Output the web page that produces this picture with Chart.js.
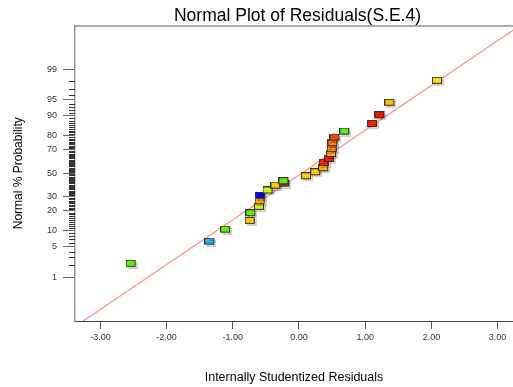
<!DOCTYPE html>
<html>
<head>
<meta charset="utf-8">
<script src="https://cdn.jsdelivr.net/npm/chart.js@4.4.1/dist/chart.umd.min.js"></script>
<style>
  body { margin: 0; background: #fff; }
</style>
</head>
<body>
<canvas id="myChart" width="513" height="387"></canvas>
<script>
// residuals (sorted) and normal probability in %
var residuals = [-2.53, -1.34, -1.10, -0.73, -0.72, -0.59, -0.58, -0.57, -0.46, -0.34, -0.21, -0.22,
  0.12, 0.26, 0.38, 0.39, 0.47, 0.50, 0.51, 0.52, 0.55, 0.70, 1.12, 1.23, 1.38, 2.10];
var probabilities = [2.1, 6.2, 10.2, 14.1, 18.3, 22.3, 26.2, 30.5, 34.6, 38.7, 40.5, 42.5,
  46.9, 50.4, 54.0, 58.7, 62.1, 66.3, 70.2, 74.5, 78.4, 82.1, 86.2, 90.0, 94.1, 98.0];
var pointColors = ["#5ef000", "#1eb0e8", "#5ef000", "#ffcc00", "#5ef000", "#c8f500", "#ffaa00", "#0000ff",
  "#c8f500", "#ffcc00", "#cc3030", "#5ef000", "#ffcc00", "#ffcc00", "#ffb000", "#ff2200",
  "#ff1100", "#ffaa00", "#ff7700", "#ff7700", "#ff4400", "#5ef000", "#ff1a00", "#ff1100", "#ffc000", "#ffe000"];

var probTicks = [1, 5, 10, 20, 30, 50, 70, 80, 90, 95, 99];
var residualTicks = [-3, -2, -1, 0, 1, 2, 3];

// reference line (residual, z)
var fitX = [-3.4, 3.4];
var fitZ = [-3.44, 3.36];

var font = "'Liberation Sans', Arial, sans-serif";

// inverse normal cdf (Acklam)
function probit(p) {
  var a = [-3.969683028665376e+01, 2.209460984245205e+02, -2.759285104469687e+02, 1.383577518672690e+02, -3.066479806614716e+01, 2.506628277459239e+00];
  var b = [-5.447609879822406e+01, 1.615858368580409e+02, -1.556989798598866e+02, 6.680131188771972e+01, -1.328068155288572e+01];
  var c = [-7.784894002430293e-03, -3.223964580411365e-01, -2.400758277161838e+00, -2.549732539343734e+00, 4.374664141464968e+00, 2.938163982698783e+00];
  var d = [7.784695709041462e-03, 3.224671290700398e-01, 2.445134137142996e+00, 3.754408661907416e+00];
  var pl = 0.02425, q, r;
  if (p < pl) {
    q = Math.sqrt(-2 * Math.log(p));
    return (((((c[0]*q+c[1])*q+c[2])*q+c[3])*q+c[4])*q+c[5]) / ((((d[0]*q+d[1])*q+d[2])*q+d[3])*q+1);
  }
  if (p > 1 - pl) {
    q = Math.sqrt(-2 * Math.log(1 - p));
    return -(((((c[0]*q+c[1])*q+c[2])*q+c[3])*q+c[4])*q+c[5]) / ((((d[0]*q+d[1])*q+d[2])*q+d[3])*q+1);
  }
  q = p - 0.5; r = q * q;
  return (((((a[0]*r+a[1])*r+a[2])*r+a[3])*r+a[4])*r+a[5])*q / (((((b[0]*r+b[1])*r+b[2])*r+b[3])*r+b[4])*r+1);
}

// little boxes used as point markers
function makeBox(color) {
  var cv = document.createElement("canvas");
  cv.width = 12; cv.height = 9;
  var g = cv.getContext("2d");
  g.fillStyle = "rgba(0,0,0,0.18)";
  g.fillRect(2, 2, 10, 7);
  g.fillStyle = color;
  g.fillRect(0, 0, 10, 7);
  g.strokeStyle = "#333";
  g.lineWidth = 1;
  g.strokeRect(0.5, 0.5, 9, 6);
  return cv;
}

var points = [];
var boxes = [];
for (var i = 0; i < residuals.length; i++) {
  points.push({ x: residuals[i], y: probit(probabilities[i] / 100) });
  boxes.push(makeBox(pointColors[i]));
}
var fitLine = fitX.map(function (x, i) { return { x: x, y: fitZ[i] }; });

// every whole percent between the labelled ones gets a short tick
var minorTicks = [];
for (var p = 2; p <= 98; p++) {
  if (probTicks.indexOf(p) < 0) minorTicks.push(p);
}

var framePlugin = {
  id: "frame",
  afterDraw: function (chart) {
    var g = chart.ctx, area = chart.chartArea, y = chart.scales.y;
    g.save();
    g.strokeStyle = "#555";
    g.lineWidth = 1;
    g.beginPath();
    g.moveTo(area.left, area.top + 0.5);
    g.lineTo(area.right, area.top + 0.5);
    g.stroke();
    g.strokeStyle = "#333";
    minorTicks.forEach(function (p) {
      var py = Math.round(y.getPixelForValue(probit(p / 100))) + 0.5;
      g.beginPath();
      g.moveTo(area.left - 6, py);
      g.lineTo(area.left, py);
      g.stroke();
    });
    g.fillStyle = "#000";
    g.font = "17.5px " + font;
    g.textAlign = "center";
    g.textBaseline = "alphabetic";
    g.fillText("Normal Plot of Residuals(S.E.4)", (area.left + area.right) / 2 + 3.5, 21);
    g.restore();
  }
};

var ctx = document.getElementById("myChart");
var myChart = new Chart(ctx, {
  type: "scatter",
  data: {
    datasets: [{
      data: points,
      pointStyle: boxes,
      pointRadius: 5,
      order: 0
    }, {
      type: "line",
      data: fitLine,
      borderColor: "#ff8c8c",
      borderWidth: 1.2,
      pointRadius: 0,
      order: 1
    }]
  },
  options: {
    responsive: false,
    animation: false,
    devicePixelRatio: 1,
    layout: { autoPadding: false, padding: { top: 25.5, right: 0, left: 0, bottom: 0 } },
    plugins: { legend: { display: false }, tooltip: { enabled: false } },
    scales: {
      x: {
        type: "linear",
        min: -3.384,
        max: 3.233,
        afterBuildTicks: function (scale) {
          scale.ticks = residualTicks.map(function (v) { return { value: v }; });
        },
        afterFit: function (scale) {
          scale.height = 66;
          scale.paddingLeft = 0;
          scale.paddingRight = 0;
        },
        ticks: {
          callback: function (v) { return v.toFixed(2); },
          font: { family: font, size: 9 },
          color: "#333",
          padding: 3,
          maxRotation: 0,
          autoSkip: false
        },
        grid: { drawOnChartArea: false, tickLength: 8, color: "#555" },
        border: { color: "#444", width: 1 },
        title: {
          display: true,
          text: "Internally Studentized Residuals",
          font: { family: font, size: 12.5 },
          color: "#000",
          padding: { top: 0, bottom: 2 }
        }
      },
      y: {
        type: "linear",
        min: -3.30,
        max: 3.30,
        afterBuildTicks: function (scale) {
          scale.ticks = probTicks.map(function (v) { return { value: probit(v / 100) }; });
        },
        afterFit: function (scale) {
          scale.width = 75;
          scale.paddingTop = 0;
          scale.paddingBottom = 0;
        },
        ticks: {
          callback: function (v, i) { return String(probTicks[i]); },
          font: { family: font, size: 9 },
          color: "#333",
          padding: 6,
          autoSkip: false
        },
        grid: { drawOnChartArea: false, tickLength: 12, color: "#666" },
        border: { color: "#999", width: 1.5 },
        title: {
          display: true,
          text: "Normal % Probability",
          font: { family: font, size: 12 },
          color: "#000",
          padding: { top: 11, bottom: 0 }
        }
      }
    }
  },
  plugins: [framePlugin]
});
</script>
</body>
</html>
